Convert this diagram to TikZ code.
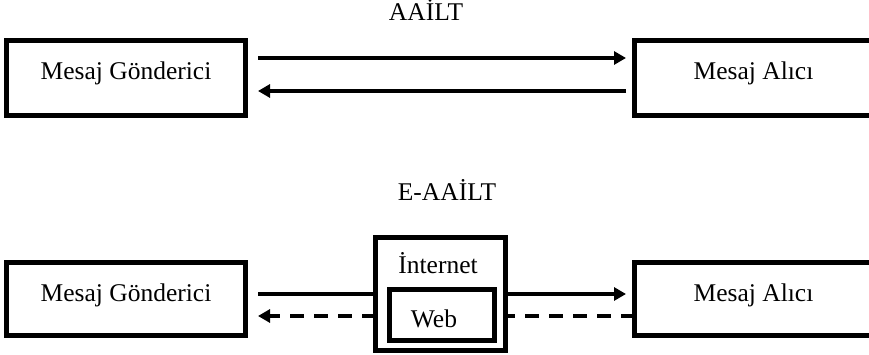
\documentclass[tikz,border=0pt]{standalone}
\usepackage{fontspec}
\setmainfont{Liberation Serif}
\usetikzlibrary{arrows.meta}
\begin{document}
\begin{tikzpicture}[x=1pt,y=-1pt,
  box/.style={draw,line width=5pt,outer sep=0pt,inner sep=0pt},
  lbl/.style={anchor=base,inner sep=0pt,font=\fontsize{25.5}{30}\selectfont},
  conn/.style={line width=3.5pt},
  arr/.style={conn,-{Triangle[length=12pt,width=13pt]}},
  dsh/.style={dash pattern=on 14pt off 10pt}]
\useasboundingbox (0,0) rectangle (869,355);
% top row
\node[lbl] (t1) at (426,21) {AAİLT};
\node[box,minimum width=239pt,minimum height=75pt] (g1) at (126,78) {};
\node[box,minimum width=250pt,minimum height=75pt] (a1) at (759.5,78) {};
\node[lbl] at ([yshift=-2pt]g1.center) {Mesaj Gönderici};
\node[lbl] at ([xshift=119pt,yshift=-2pt]a1.west) {Mesaj Alıcı};
\coordinate (g1u) at (258,58);
\coordinate (a1u) at (626,58);
\coordinate (g1d) at (258,91);
\coordinate (a1d) at (626,91);
\draw[arr] (g1u) -- (a1u);
\draw[arr] (a1d) -- (g1d);
% bottom row
\node[lbl] (t2) at (447,201) {E-AAİLT};
\node[box,minimum width=239pt,minimum height=73pt] (g2) at (126,299) {};
\node[box,minimum width=250pt,minimum height=73pt] (a2) at (759.5,299) {};
\node[lbl] at ([yshift=-2pt]g2.center) {Mesaj Gönderici};
\node[lbl] at ([xshift=119pt,yshift=-2pt]a2.west) {Mesaj Alıcı};
\node[box,minimum width=130pt,minimum height=113pt] (inet) at (440.5,294) {};
\node[box,minimum width=105pt,minimum height=51pt] (web) at (442,315) {};
\node[lbl] at (438,273) {İnternet};
\node[lbl] at (434,327) {Web};
\draw[conn] (258,294) -- (inet.west |- 0,294);
\draw[arr] (inet.east |- 0,294) -- (626,294);
\draw[arr,dsh] (inet.west |- 0,316) -- (258,316);
\draw[conn,dsh] (a2.west |- 0,316) -- (inet.east |- 0,316);
\end{tikzpicture}
\end{document}
